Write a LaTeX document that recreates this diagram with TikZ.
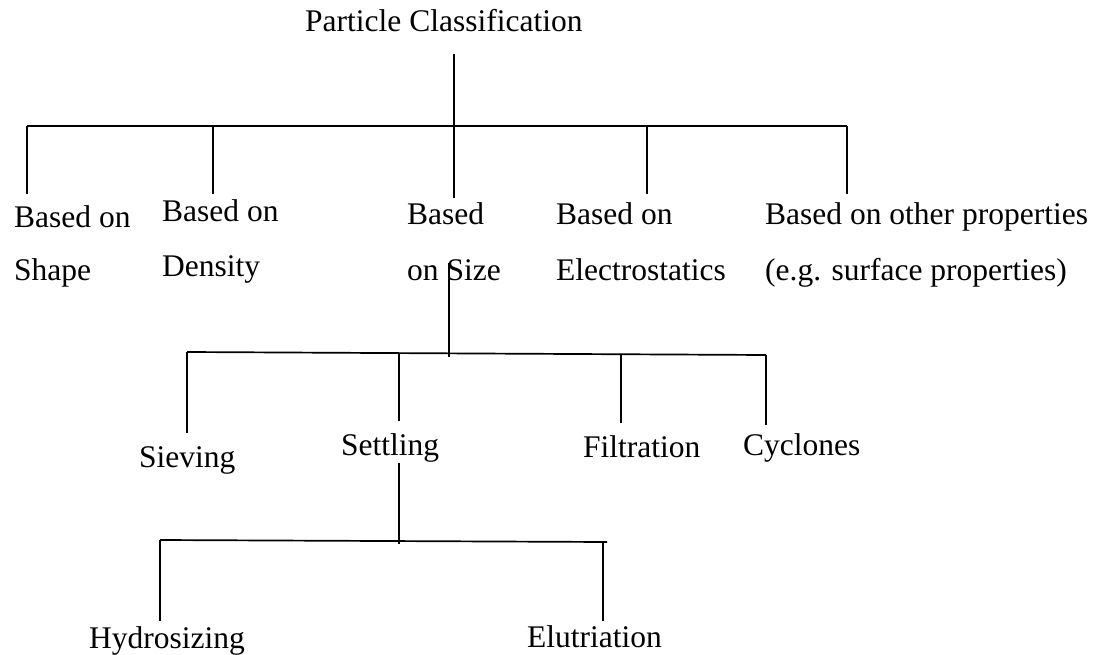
\documentclass[tikz,border=0pt]{standalone}
\usepackage{fontspec}
\setmainfont{Liberation Serif}
\begin{document}
\begin{tikzpicture}[x=1pt,y=-1pt,
  lbl/.style={anchor=base west, inner sep=0pt, font=\fontsize{31.5}{38}\selectfont},
  conn/.style={draw=black, line width=1.7pt}]
\fill[white] (0,0) rectangle (1108,655);
\useasboundingbox (0,0) rectangle (1108,655);

% ---- labels ----
\node[lbl] (title) at (305,32) {Particle Classification};

\node[lbl] (shapeA) at (14,228) {Based on};
\node[lbl] (shapeB) at (14,280) {Shape};
\node[lbl] (densA) at (162,222) {Based on};
\node[lbl] (densB) at (162,276) {Density};
\node[lbl] (sizeA) at (407,225) {Based};
\node[lbl] (sizeB) at (407,280) {on Size};
\node[lbl] (elecA) at (556,225) {Based on};
\node[lbl] (elecB) at (556,280) {Electrostatics};
\node[lbl] (othA) at (765,225) {Based on other properties};
\node[lbl] (othB) at (765,280) {(e.g. surface properties)};

\node[lbl] (siev) at (139,467) {Sieving};
\node[lbl] (sett) at (341,455) {Settling};
\node[lbl] (filt) at (583,457) {Filtration};
\node[lbl] (cycl) at (743,455) {Cyclones};

\node[lbl] (hydr) at (89,648) {Hydrosizing};
\node[lbl] (elut) at (527,647) {Elutriation};

% ---- level 1 ----
\coordinate (tTop) at (454,54);
\coordinate (b1L) at (27,126);
\coordinate (b1D) at (213,126);
\coordinate (b1E) at (647,126);
\coordinate (b1R) at (847,126);
\coordinate (eShape) at (27,194);
\coordinate (eDens) at (213,194);
\coordinate (eSize) at (454,198);
\coordinate (eElec) at (647,194);
\coordinate (eOth) at (847,194);

\draw[conn] (tTop) -- (eSize);
\draw[conn] (b1L) -- (b1R);
\draw[conn] (b1L) -- (eShape);
\draw[conn] (b1D) -- (eDens);
\draw[conn] (b1E) -- (eElec);
\draw[conn] (b1R) -- (eOth);

% ---- level 2 ----
\coordinate (sTop) at (449,263);
\coordinate (sBot) at (449,357);
\coordinate (b2L) at (187,352);
\coordinate (b2S) at (399,353);
\coordinate (b2F) at (621,354);
\coordinate (b2R) at (766,355);
\coordinate (eSiev) at (187,433);
\coordinate (eSett) at (399,421);
\coordinate (eFilt) at (621,423);
\coordinate (eCycl) at (766,425);

\draw[conn] (sTop) -- (sBot);
\draw[conn] (b2L) -- (b2R);
\draw[conn] (b2L) -- (eSiev);
\draw[conn] (b2S) -- (eSett);
\draw[conn] (b2F) -- (eFilt);
\draw[conn] (b2R) -- (eCycl);

% ---- level 3 ----
\coordinate (tTop3) at (399,463);
\coordinate (tBot3) at (399,544);
\coordinate (b3L) at (160,540);
\coordinate (b3R) at (607,542);
\coordinate (b3E) at (603,542);
\coordinate (eHydr) at (160,621);
\coordinate (eElut) at (603,621);

\draw[conn] (tTop3) -- (tBot3);
\draw[conn] (b3L) -- (b3R);
\draw[conn] (b3L) -- (eHydr);
\draw[conn] (b3E) -- (eElut);
\end{tikzpicture}
\end{document}
